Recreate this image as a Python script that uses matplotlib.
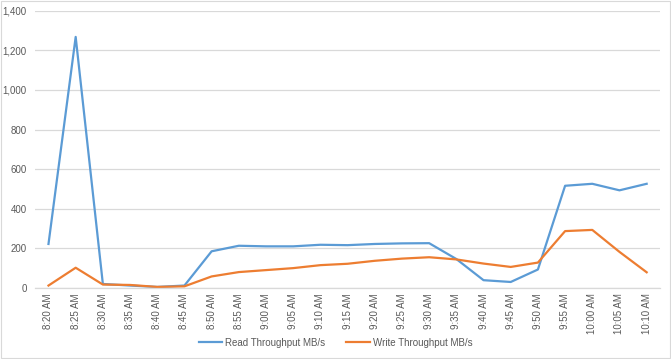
import matplotlib
matplotlib.use('Agg')
from matplotlib import pyplot as plt
from matplotlib.ticker import FuncFormatter
import numpy as np

times = ['8:20 AM', '8:25 AM', '8:30 AM', '8:35 AM', '8:40 AM', '8:45 AM',
         '8:50 AM', '8:55 AM', '9:00 AM', '9:05 AM', '9:10 AM', '9:15 AM',
         '9:20 AM', '9:25 AM', '9:30 AM', '9:35 AM', '9:40 AM', '9:45 AM',
         '9:50 AM', '9:55 AM', '10:00 AM', '10:05 AM', '10:10 AM']
read_mbs = [222, 1268, 20, 12, 5, 12, 185, 213, 210, 210, 218, 216,
            222, 225, 226, 146, 39, 30, 93, 516, 526, 493, 526]
write_mbs = [12, 102, 17, 15, 5, 8, 58, 80, 90, 100, 115, 122,
             137, 148, 155, 144, 123, 106, 128, 287, 293, 182, 79]

plt.rcParams['font.family'] = ['Liberation Sans Narrow', 'Liberation Sans', 'DejaVu Sans']
grey = '#595959'

fig = plt.figure(figsize=(6.71, 3.59), dpi=100)
ax = fig.add_axes([0.052, 0.198, 0.932, 0.772])

x = np.arange(len(times))
ax.plot(x, read_mbs, color='#5B9BD5', lw=1.6, label='Read Throughput MB/s')
ax.plot(x, write_mbs, color='#ED7D31', lw=1.6, label='Write Throughput MB/s')

ax.set_xlim(-0.5, len(times) - 0.5)
ax.set_ylim(0, 1400)
ax.set_yticks(range(0, 1401, 200))
ax.yaxis.set_major_formatter(FuncFormatter(lambda v, p: f'{int(v):,}'))
ax.set_xticks(x)
ax.set_xticklabels(times, rotation=90)
ax.tick_params(axis='both', length=0, labelsize=7, colors=grey)
ax.tick_params(axis='x', pad=4)
ax.tick_params(axis='y', pad=6)

ax.grid(axis='y', color='#d9d9d9', lw=0.9)
ax.set_axisbelow(True)
for s in ['top', 'right', 'left']:
    ax.spines[s].set_visible(False)
ax.spines['bottom'].set_color('#d9d9d9')
ax.spines['bottom'].set_linewidth(0.9)

fig.legend(loc='center', bbox_to_anchor=(0.5, 0.045), ncol=2, frameon=False,
           fontsize=7, labelcolor=grey, handlelength=2.4, columnspacing=2.2,
           handletextpad=0.3)

fig.patches.append(plt.Rectangle((0.002, 0.003), 0.996, 0.994, transform=fig.transFigure,
                                 fill=False, edgecolor='#d9d9d9', lw=0.8))

fig.savefig('out.png', dpi=100)
